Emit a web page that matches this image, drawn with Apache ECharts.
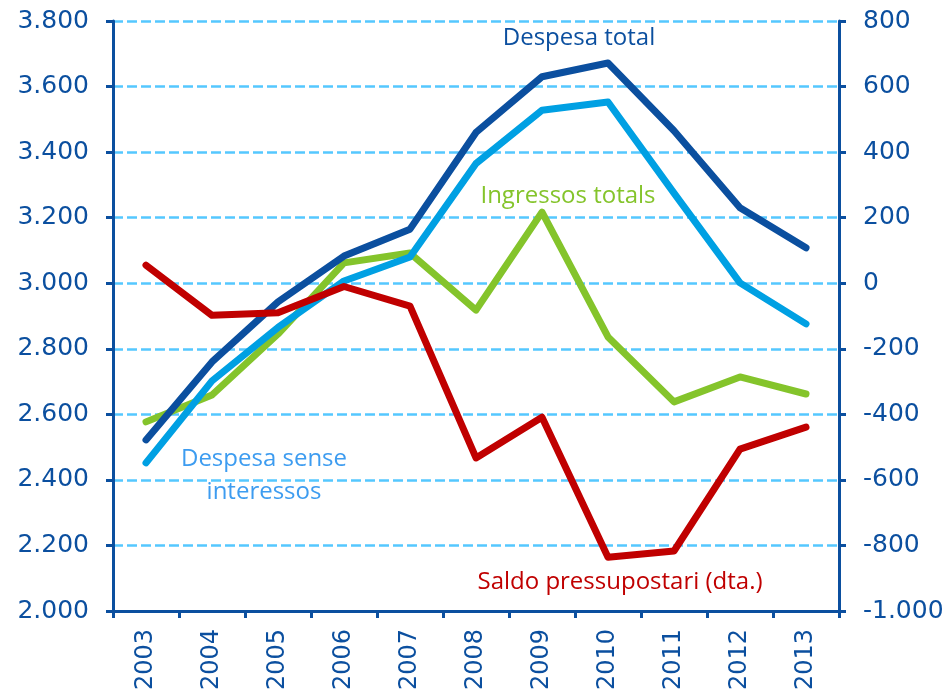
<!DOCTYPE html>
<html>
<head>
<meta charset="utf-8">
<script src="https://cdn.jsdelivr.net/npm/echarts@6/dist/echarts.min.js"></script>
<style>
  html, body { margin: 0; padding: 0; background: #fff; }
  #chart { width: 948px; height: 694px; }
</style>
</head>
<body>
<div id="chart"></div>
<script>
// anys
var years = ['2003','2004','2005','2006','2007','2008','2009','2010','2011','2012','2013'];
// eix esquerre
var despesaTotal = [2522, 2760, 2943, 3083, 3165, 3460, 3630, 3672, 3465, 3230, 3108];
var despesaSenseInteressos = [2452, 2702, 2865, 3007, 3080, 3365, 3528, 3553, 3275, 3001, 2876];
var ingressosTotals = [2577, 2659, 2845, 3062, 3092, 2918, 3217, 2836, 2638, 2714, 2662];
// eix dret
var saldoPressupostari = [55, -98, -90, -10, -70, -533, -409, -836, -817, -506, -439];

var blau = '#0b4f9f';
var fmt = function (v) {
    var s = Math.abs(v).toString().replace(/\B(?=(\d{3})+(?!\d))/g, '.');
    return (v < 0 ? '-' : '') + s;
};

var chart = echarts.init(document.getElementById('chart'));

function yAxis(min, max, pos) {
    return {
        type: 'value',
        position: pos,
        min: min,
        max: max,
        interval: 200,
        axisLine: { show: true, lineStyle: { color: blau, width: 3 } },
        axisTick: { show: true, length: 7, lineStyle: { color: blau, width: 3 } },
        axisLabel: {
            color: blau, fontSize: 25, fontFamily: 'DejaVu Sans', margin: 24,
            formatter: fmt
        },
        splitLine: pos === 'left'
            ? { show: true, lineStyle: { color: '#55c8ff', width: 2.5, type: [10, 4] } }
            : { show: false }
    };
}

function linia(name, data, color, axis) {
    return {
        name: name, type: 'line', data: data, yAxisIndex: axis,
        symbol: 'none', smooth: false,
        lineStyle: { color: color, width: 7, cap: 'round', join: 'round' },
        itemStyle: { color: color },
        z: 3
    };
}

var txt = function (x, y, text, color) {
    return {
        type: 'text', x: x, y: y, z: 10,
        style: { text: text, fill: color, font: '24px "Open Sans"', align: 'center', verticalAlign: 'middle', lineHeight: 33 }
    };
};

chart.setOption({
    animation: false,
    grid: { left: 113, right: 109, top: 21, bottom: 83 },
    xAxis: {
        type: 'category',
        data: years,
        boundaryGap: true,
        axisLine: { show: true, onZero: false, lineStyle: { color: blau, width: 3 } },
        axisTick: { show: true, length: 7, lineStyle: { color: blau, width: 3 } },
        axisLabel: { color: blau, fontSize: 24, fontFamily: 'DejaVu Sans', rotate: 90, margin: 18 }
    },
    yAxis: [yAxis(2000, 3800, 'left'), yAxis(-1000, 800, 'right')],
    series: [
        linia('Ingressos totals', ingressosTotals, '#84c42b', 0),
        linia('Despesa sense interessos', despesaSenseInteressos, '#00a0e3', 0),
        linia('Despesa total', despesaTotal, blau, 0),
        linia('Saldo pressupostari (dta.)', saldoPressupostari, '#c00000', 1)
    ],
    graphic: [
        txt(579, 38, 'Despesa total', blau),
        txt(568, 196, 'Ingressos totals', '#84c42b'),
        txt(264, 476, 'Despesa sense\ninteressos', '#3d9cf0'),
        txt(620, 582, 'Saldo pressupostari (dta.)', '#c00000')
    ]
});
</script>
</body>
</html>
